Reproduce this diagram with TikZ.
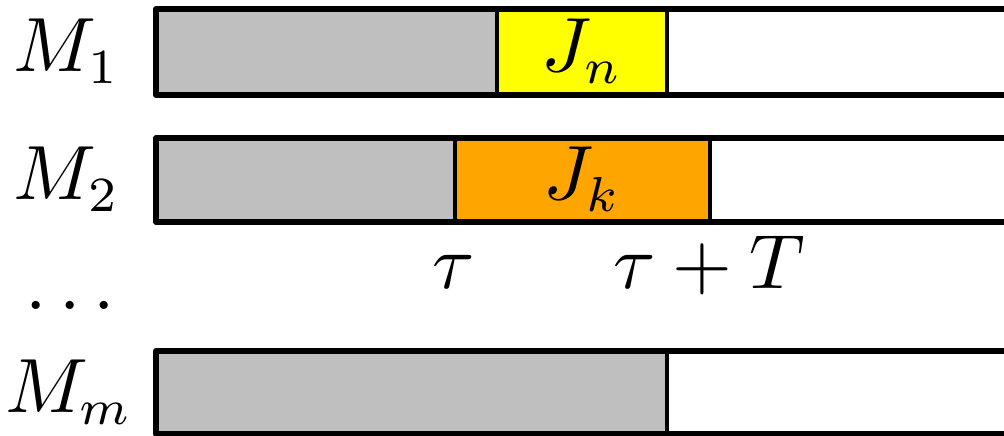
\documentclass[tikz,border=0pt]{standalone}
\usepackage{xcolor}
\usepackage{amsmath}
\usepackage{tikz}
\usetikzlibrary{positioning, calc}
\definecolor{mygray}{RGB}{191,191,191}
\definecolor{myyellow}{RGB}{255,255,0}
\definecolor{myorange}{RGB}{255,165,0}
\tikzset{
  frame/.style={draw=black, line width=0.85pt, line join=round},
  split/.style={draw=black, line width=0.45pt},
  lbl/.style={anchor=base, inner sep=0pt, font=\fontsize{10.5}{12}\selectfont}
}

\begin{document}
\begin{tikzpicture}[x=0.005cm, y=-0.005cm]
  \useasboundingbox (0,0) rectangle (1004,436);
  \clip (0,0) rectangle (1004,436);

  % machine 1
  \fill [mygray] (156,9) rectangle (497,95);
  \fill [myyellow] (497,9) rectangle (667,95);
  \draw [split] (497,9) -- (497,95);
  \draw [split] (667,9) -- (667,95);
  \draw [frame] (1010,9) -- (156,9) -- (156,95) -- (1010,95);

  % machine 2
  \fill [mygray] (156,138) rectangle (455,222);
  \fill [myorange] (455,138) rectangle (710,222);
  \draw [split] (455,138) -- (455,222);
  \draw [split] (710,138) -- (710,222);
  \draw [frame] (1010,138) -- (156,138) -- (156,222) -- (1010,222);

  % machine m
  \fill [mygray] (156,351) rectangle (667,434);
  \draw [split] (667,351) -- (667,434);
  \draw [frame] (1010,351) -- (156,351) -- (156,434) -- (1010,434);

  \node [lbl] (m1) at (67,72) {$M_1$};
  \node [lbl] (m2) at (67,200) {$M_2$};
  \node [lbl] (dots) at (70,310) {$\ldots$};
  \node [lbl] (mm) at (69,413) {$M_m$};

  \node [lbl] (jn) at (582,72) {$J_n$};
  \node [lbl] (jk) at (582,200) {$J_k$};

  \node [lbl] (tau) at (454,289) {$\tau$};
  \node [lbl] (tauT) at (709,289) {$\tau+T$};
\end{tikzpicture}
\end{document}
